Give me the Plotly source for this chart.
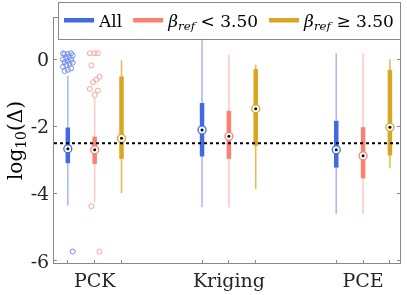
import plotly.graph_objects as go

groups = ["PCK", "Kriging", "PCE"]
series_names = ["All", "<i>β</i><sub><i>ref</i></sub> &lt; 3.50", "<i>β</i><sub><i>ref</i></sub> ≥ 3.50"]
colors = ["#4169E1", "#FA8072", "#DAA520"]
whisker_colors = ["rgba(65,105,225,0.45)", "rgba(250,128,114,0.4)", "rgba(218,165,32,0.75)"]

# per series: values for PCK, Kriging, PCE
all_lo = [-4.35, -4.40, -4.60]
all_q1 = [-3.09, -2.89, -3.22]
all_med = [-2.66, -2.10, -2.69]
all_q3 = [-2.03, -1.30, -1.83]
all_hi = [-0.49, 1.05, 0.18]

low_lo = [-4.25, -4.40, -4.60]
low_q1 = [-3.11, -2.96, -3.54]
low_med = [-2.69, -2.29, -2.87]
low_q3 = [-2.30, -1.53, -2.02]
low_hi = [-1.15, 0.13, 0.18]

high_lo = [-3.98, -3.86, -3.24]
high_q1 = [-2.96, -2.57, -2.86]
high_med = [-2.35, -1.47, -2.02]
high_q3 = [-0.51, -0.29, -0.31]
high_hi = [-0.03, -0.16, 0.00]

# outliers (group index, value)
all_out_grp = [0] * 19
all_out_val = [0.18, 0.18, 0.16, 0.15, 0.12, 0.08, 0.05, 0.0, -0.02, -0.05, -0.08,
               -0.1, -0.13, -0.17, -0.22, -0.27, -0.31, -0.35, -5.72]
low_out_grp = [0, 0, 0, 0, 0, 0, 0, 0, 0, 0, 0, 0, 1]
low_out_val = [0.18, 0.18, 0.18, -0.18, -0.52, -0.60, -0.68, -0.88, -0.93, -1.06, -4.37, -5.72, 0.90]
high_out_grp = []
high_out_val = []

threshold = -2.5
y_tickvals = [0, -2, -4, -6]
y_ticktext = ["0", "-2", "-4", "-6"]

stats = [
    (all_lo, all_q1, all_med, all_q3, all_hi, all_out_grp, all_out_val),
    (low_lo, low_q1, low_med, low_q3, low_hi, low_out_grp, low_out_val),
    (high_lo, high_q1, high_med, high_q3, high_hi, high_out_grp, high_out_val),
]
offsets = [-0.2, 0.0, 0.2]

fig = go.Figure()
FONT = "DejaVu Serif"

for s, (lo, q1, med, q3, hi, og, ov) in enumerate(stats):
    xs = [g + 1 + offsets[s] for g in range(len(groups))]
    wx, wy = [], []
    for i, x in enumerate(xs):
        wx += [x, x, None]
        wy += [lo[i], hi[i], None]
    fig.add_trace(go.Scatter(x=wx, y=wy, mode="lines", showlegend=False,
                             line=dict(color=whisker_colors[s], width=1.6), hoverinfo="skip"))
    if ov:
        jit = [((k * 5) % 7 - 3) * 0.012 for k in range(len(ov))]
        ox = [og[k] + 1 + offsets[s] + jit[k] for k in range(len(ov))]
        fig.add_trace(go.Scatter(x=ox, y=ov, mode="markers", showlegend=False,
                                 marker=dict(symbol="circle-open", size=5, color=colors[s],
                                             line=dict(width=1)), opacity=0.75))
    bx, by = [], []
    for i, x in enumerate(xs):
        bx += [x, x, None]
        by += [q1[i], q3[i], None]
    fig.add_trace(go.Scatter(x=bx, y=by, mode="lines", name=series_names[s],
                             line=dict(color=colors[s], width=4.5)))
    fig.add_trace(go.Scatter(x=xs, y=med, mode="markers", showlegend=False,
                             marker=dict(symbol="circle", size=8, color="white",
                                         line=dict(color=colors[s], width=1.3))))
    fig.add_trace(go.Scatter(x=xs, y=med, mode="markers", showlegend=False,
                             marker=dict(symbol="circle", size=3, color="black")))

fig.add_hline(y=threshold, line=dict(color="black", width=2, dash="dot"))

xt = []
xtt = []
for g, name in enumerate(groups):
    for o in offsets:
        xt.append(g + 1 + o)
        xtt.append(name if o == 0 else "")

fig.update_layout(
    width=407, height=295,
    autosize=False,
    margin=dict(l=54, r=7, t=18, b=32, autoexpand=False),
    paper_bgcolor="white", plot_bgcolor="white",
    font=dict(family=FONT, size=19, color="#262626"),
    showlegend=True,
    legend=dict(orientation="h", x=1.003, xanchor="right", y=1.067, yanchor="top",
                bgcolor="white", bordercolor="#888", borderwidth=1,
                font=dict(family=FONT, size=17, color="black"),
                itemwidth=30, tracegroupgap=0),
    xaxis=dict(range=[0.697, 3.275], tickvals=xt, ticktext=xtt, showgrid=False,
               zeroline=False, showline=True, linecolor="#888", linewidth=1, mirror=True,
               ticks="inside", ticklen=3, tickcolor="#888", automargin=False),
    yaxis=dict(range=[-6.06, 1.23], tickvals=y_tickvals, ticktext=y_ticktext, showgrid=False,
               zeroline=False, showline=True, linecolor="#888", linewidth=1, mirror="ticks",
               ticks="inside", ticklen=3, tickcolor="#888", automargin=False,
               title=dict(text="log<sub>10</sub>(Δ)", font=dict(size=20, color="black"), standoff=2)),
)

fig.write_html("out.html", config={"displayModeBar": False},
               post_script="document.body.style.margin='0';document.body.style.overflow='hidden';")
